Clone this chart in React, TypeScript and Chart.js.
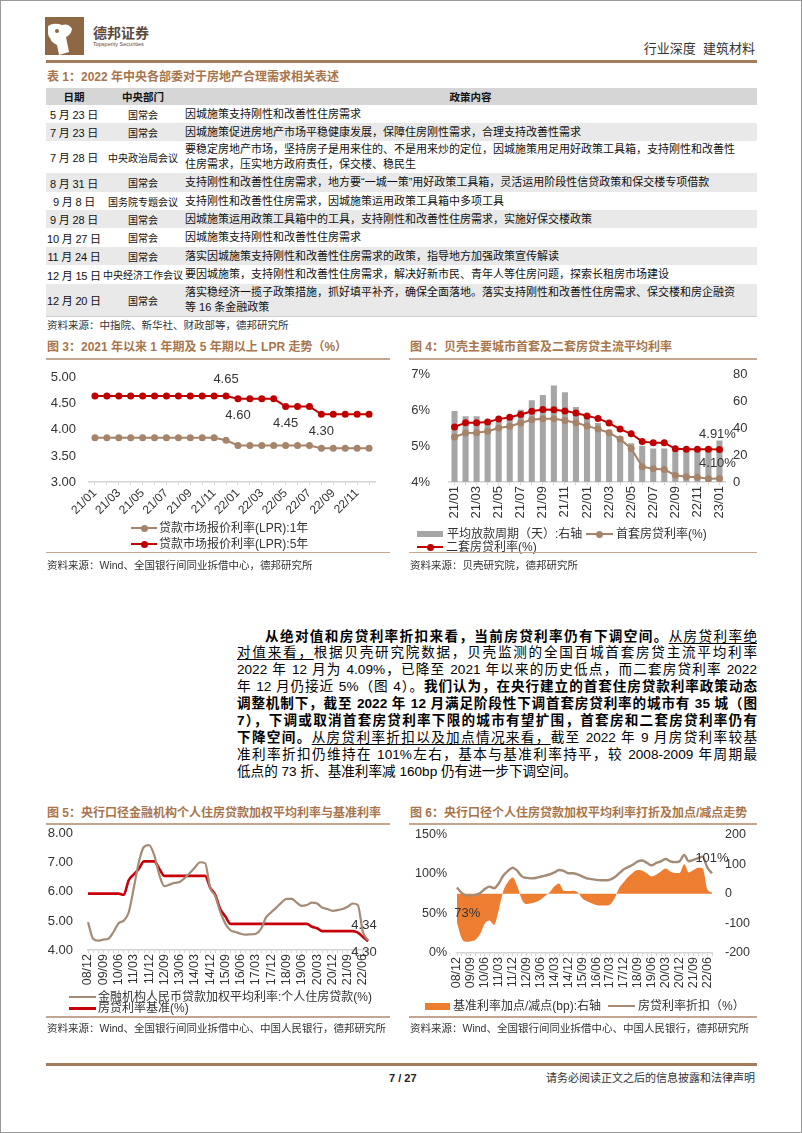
import React, { useEffect, useRef } from 'react';
import { Chart, registerables } from 'chart.js';

Chart.register(...registerables);

const FF = "'Liberation Sans', 'Noto Sans CJK SC', sans-serif";
Chart.defaults.font.family = FF;
Chart.defaults.color = '#333';

// ---------------- Table 1 ----------------
const policyDates = ['5 月 23 日', '7 月 23 日', '7 月 28 日', '8 月 31 日', '9 月 8 日', '9 月 28 日', '10 月 27 日', '11 月 24 日', '12 月 15 日', '12 月 20 日'];
const policyDepts = ['国常会', '国常会', '中央政治局会议', '国常会', '国务院专题会议', '国常会', '国常会', '国常会', '中央经济工作会议', '国常会'];
const policyContents: string[][] = [
  ['因城施策支持刚性和改善性住房需求'],
  ['因城施策促进房地产市场平稳健康发展，保障住房刚性需求，合理支持改善性需求'],
  ['要稳定房地产市场，坚持房子是用来住的、不是用来炒的定位，因城施策用足用好政策工具箱，支持刚性和改善性', '住房需求，压实地方政府责任，保交楼、稳民生'],
  ['支持刚性和改善性住房需求，地方要“一城一策”用好政策工具箱，灵活运用阶段性信贷政策和保交楼专项借款'],
  ['支持刚性和改善性住房需求，因城施策运用政策工具箱中多项工具'],
  ['因城施策运用政策工具箱中的工具，支持刚性和改善性住房需求，实施好保交楼政策'],
  ['因城施策支持刚性和改善性住房需求'],
  ['落实因城施策支持刚性和改善性住房需求的政策，指导地方加强政策宣传解读'],
  ['要因城施策，支持刚性和改善性住房需求，解决好新市民、青年人等住房问题，探索长租房市场建设'],
  ['落实稳经济一揽子政策措施，抓好填平补齐，确保全面落地。落实支持刚性和改善性住房需求、保交楼和房企融资', '等 16 条金融政策'],
];

// ---------------- Figure 3: LPR ----------------
const lprMonths = ['21/01', '21/02', '21/03', '21/04', '21/05', '21/06', '21/07', '21/08', '21/09', '21/10', '21/11', '21/12', '22/01', '22/02', '22/03', '22/04', '22/05', '22/06', '22/07', '22/08', '22/09', '22/10', '22/11', '22/12'];
const lpr1Y = [3.85, 3.85, 3.85, 3.85, 3.85, 3.85, 3.85, 3.85, 3.85, 3.85, 3.85, 3.80, 3.70, 3.70, 3.70, 3.70, 3.70, 3.70, 3.70, 3.65, 3.65, 3.65, 3.65, 3.65];
const lpr5Y = [4.65, 4.65, 4.65, 4.65, 4.65, 4.65, 4.65, 4.65, 4.65, 4.65, 4.65, 4.65, 4.60, 4.60, 4.60, 4.60, 4.45, 4.45, 4.45, 4.30, 4.30, 4.30, 4.30, 4.30];
const lprTicks = [3, 3.5, 4, 4.5, 5];

// ---------------- Figure 4: Beike ----------------
const bkMonths = ['21/01', '21/02', '21/03', '21/04', '21/05', '21/06', '21/07', '21/08', '21/09', '21/10', '21/11', '21/12', '22/01', '22/02', '22/03', '22/04', '22/05', '22/06', '22/07', '22/08', '22/09', '22/10', '22/11', '22/12', '23/01'];
const loanDays = [53, 49, 49, 45, 45, 48, 54, 61, 65, 72, 67, 56, 49, 44, 39, 34, 29, 27, 25, 25, 23, 23, 24, 26, 31];
const firstHomeRate = [5.26, 5.37, 5.38, 5.42, 5.51, 5.56, 5.65, 5.74, 5.77, 5.77, 5.72, 5.66, 5.57, 5.48, 5.38, 5.20, 4.94, 4.43, 4.37, 4.35, 4.19, 4.15, 4.13, 4.09, 4.10];
const secondHomeRate = [5.54, 5.66, 5.66, 5.68, 5.76, 5.81, 5.89, 5.98, 6.03, 6.02, 5.99, 5.93, 5.85, 5.78, 5.65, 5.48, 5.35, 5.13, 5.10, 5.10, 4.93, 4.92, 4.92, 4.92, 4.91];

// ---------------- Figures 5 & 6: PBOC quarterly ----------------
const quarters = ['08/12', '09/03', '09/06', '09/09', '09/12', '10/03', '10/06', '10/09', '10/12', '11/03', '11/06', '11/09', '11/12', '12/03', '12/06', '12/09', '12/12', '13/03', '13/06', '13/09', '13/12', '14/03', '14/06', '14/09', '14/12', '15/03', '15/06', '15/09', '15/12', '16/03', '16/06', '16/09', '16/12', '17/03', '17/06', '17/09', '17/12', '18/03', '18/06', '18/09', '18/12', '19/03', '19/06', '19/09', '19/12', '20/03', '20/06', '20/09', '20/12', '21/03', '21/06', '21/09', '21/12', '22/03', '22/06', '22/09'];
const mortgageRate = [4.96, 4.39, 4.32, 4.36, 4.39, 4.62, 4.92, 5.01, 5.30, 6.14, 7.04, 7.55, 7.61, 7.27, 6.59, 6.20, 6.25, 6.31, 6.34, 6.48, 6.65, 6.84, 7.02, 6.99, 6.14, 5.86, 5.30, 4.90, 4.68, 4.62, 4.56, 4.53, 4.54, 4.56, 4.73, 5.13, 5.30, 5.46, 5.63, 5.76, 5.76, 5.63, 5.52, 5.55, 5.63, 5.60, 5.46, 5.41, 5.35, 5.37, 5.41, 5.49, 5.60, 5.55, 4.62, 4.34];
const benchmarkRate = [5.94, 5.94, 5.94, 5.94, 5.94, 5.94, 5.94, 5.90, 6.40, 6.60, 6.80, 7.05, 7.05, 7.05, 6.80, 6.55, 6.55, 6.55, 6.55, 6.55, 6.55, 6.55, 6.55, 6.55, 6.15, 5.90, 5.40, 5.15, 4.90, 4.90, 4.90, 4.90, 4.90, 4.90, 4.90, 4.90, 4.90, 4.90, 4.90, 4.90, 4.90, 4.90, 4.90, 4.90, 4.80, 4.75, 4.65, 4.65, 4.65, 4.65, 4.65, 4.65, 4.65, 4.60, 4.45, 4.30];
const discountPct = [83, 76, 73, 73, 73.5, 76, 81, 84, 82, 88, 98, 104, 108, 104, 97, 95, 94.5, 95, 96.5, 98, 99.5, 102, 105, 104, 101, 101, 99.5, 97, 94.5, 93.5, 92.5, 92, 92, 93, 96, 101, 106, 109, 112, 116, 117, 114, 111, 114, 116, 119, 116, 115, 116, 124, 116, 118, 120, 122, 108, 101];
const spreadBp = [-98, -150, -162, -160, -155, -135, -100, -90, -105, -55, 10, 40, 55, 25, -20, -35, -32, -28, -20, -8, 5, 25, 35, 10, 9, 10, 5, -15, -25, -32, -38, -40, -40, -36, -15, 20, 40, 58, 72, 80, 78, 68, 58, 65, 75, 85, 75, 70, 70, 100, 72, 80, 88, 85, 15, 4];

// ---------------- Paragraph ----------------
type Seg = [string, 'n' | 'b' | 'u'];
const paraLines: Seg[][] = [
  [['从绝对值和房贷利率折扣来看，当前房贷利率仍有下调空间。', 'b'], ['从房贷利率绝', 'u']],
  [['对值来看，', 'u'], ['根据贝壳研究院数据，贝壳监测的全国百城首套房贷主流平均利率', 'n']],
  [['2022 年 12 月为 4.09%，已降至 2021 年以来的历史低点，而二套房贷利率 2022', 'n']],
  [['年 12 月仍接近 5%（图 4）。', 'n'], ['我们认为，在央行建立的首套住房贷款利率政策动态', 'b']],
  [['调整机制下，截至 2022 年 12 月满足阶段性下调首套房贷利率的城市有 35 城（图', 'b']],
  [['7），下调或取消首套房贷利率下限的城市有望扩围，首套房和二套房贷利率仍有', 'b']],
  [['下降空间。', 'b'], ['从房贷利率折扣以及加点情况来看，', 'u'], ['截至 2022 年 9 月房贷利率较基', 'n']],
  [['准利率折扣仍维持在 101%左右，基本与基准利率持平，较 2008-2009 年周期最', 'n']],
  [['低点的 73 折、基准利率减 160bp 仍有进一步下调空间。', 'n']],
];

// ---------------- colours ----------------
const BROWN = '#a5846a';
const RED = '#c00000';
const GREYBAR = '#a6a6a6';
const ORANGE = '#ed7d31';
const TITLE = '#a8754c';
const RULE = '#c2a78e';
const AXIS = '#d4d4d4';

type LabelItem = { ds: number; idx: number; text: string; dx: number; dy: number };
function valueLabels(items: LabelItem[], size: number) {
  return {
    id: 'valueLabels',
    afterDatasetsDraw(chart: any) {
      const ctx = chart.ctx;
      ctx.save();
      ctx.font = `${size}px ${FF}`;
      ctx.fillStyle = '#333';
      ctx.textAlign = 'center';
      ctx.textBaseline = 'middle';
      items.forEach((it) => {
        const el = chart.getDatasetMeta(it.ds).data[it.idx];
        if (el) ctx.fillText(it.text, el.x + it.dx, el.y + it.dy);
      });
      ctx.restore();
    },
  };
}

function xAxis(labels: string[], every: number, rot: number, size: number, h: number, offset: boolean) {
  return {
    offset,
    grid: { display: true, drawOnChartArea: false, color: AXIS, tickLength: 3, offset: false },
    border: { color: AXIS, width: 1.5 },
    ticks: {
      autoSkip: false,
      maxRotation: rot,
      minRotation: rot,
      padding: 1,
      font: { size },
      color: '#333',
      callback: (_v: any, i: number) => (i % every === 0 ? labels[i] : ''),
    },
    afterFit: (s: any) => { s.height = h; },
  };
}

function yAxis(opts: any, w: number, size: number, pad: number, pos: 'left' | 'right') {
  return {
    position: pos,
    ...opts,
    grid: { display: false, drawTicks: false },
    border: { display: false },
    ticks: { ...(opts.ticks || {}), padding: pad, font: { size }, color: '#333' },
    afterFit: (s: any) => { s.width = w; },
  };
}

function ChartCanvas({ left, top, width, height, build }: { left: number; top: number; width: number; height: number; build: () => any }) {
  const ref = useRef<HTMLCanvasElement>(null);
  useEffect(() => {
    const chart = new Chart(ref.current as HTMLCanvasElement, build());
    return () => chart.destroy();
  }, []);
  return <canvas ref={ref} width={width} height={height} style={{ position: 'absolute', left, top, width, height }} />;
}

const baseOpts = (padding: any) => ({
  animation: false,
  responsive: false,
  maintainAspectRatio: false,
  events: [],
  layout: { padding },
  plugins: { legend: { display: false }, tooltip: { enabled: false } },
});

function buildLpr() {
  return {
    type: 'line',
    data: {
      labels: lprMonths,
      datasets: [
        { data: lpr1Y, borderColor: BROWN, backgroundColor: BROWN, borderWidth: 2, pointRadius: 3.5, pointBorderWidth: 0, tension: 0 },
        { data: lpr5Y, borderColor: RED, backgroundColor: RED, borderWidth: 2, pointRadius: 3.5, pointBorderWidth: 0, tension: 0 },
      ],
    },
    options: {
      ...baseOpts({ top: 2, right: 9, left: 0, bottom: 0 }),
      scales: {
        x: xAxis(lprMonths, 2, 45, 12, 44, true),
        y: yAxis({ min: lprTicks[0], max: lprTicks[lprTicks.length - 1], ticks: { stepSize: 0.5, callback: (v: any) => Number(v).toFixed(2) } }, 45, 13, 13, 'left'),
      },
    },
    plugins: [valueLabels([
      { ds: 1, idx: 11, text: lpr5Y[11].toFixed(2), dx: 0, dy: -17 },
      { ds: 1, idx: 12, text: lpr5Y[12].toFixed(2), dx: 0, dy: 17 },
      { ds: 1, idx: 16, text: lpr5Y[16].toFixed(2), dx: 0, dy: 17 },
      { ds: 1, idx: 19, text: lpr5Y[19].toFixed(2), dx: 0, dy: 17 },
    ], 13)],
  };
}

function buildBeike() {
  const last = bkMonths.length - 1;
  return {
    type: 'bar',
    data: {
      labels: bkMonths,
      datasets: [
        { type: 'line', data: firstHomeRate, yAxisID: 'y', borderColor: BROWN, backgroundColor: BROWN, borderWidth: 2, pointRadius: 3.5, pointBorderWidth: 0, tension: 0, order: 1 },
        { type: 'line', data: secondHomeRate, yAxisID: 'y', borderColor: RED, backgroundColor: RED, borderWidth: 2, pointRadius: 3.5, pointBorderWidth: 0, tension: 0, order: 0 },
        { type: 'bar', data: loanDays, yAxisID: 'y1', backgroundColor: GREYBAR, barPercentage: 0.55, categoryPercentage: 1, order: 2 },
      ],
    },
    options: {
      ...baseOpts({ top: 2, right: 0, left: 0, bottom: 0 }),
      scales: {
        x: xAxis(bkMonths, 2, 90, 13, 44, true),
        y: yAxis({ min: 4, max: 7, ticks: { stepSize: 1, callback: (v: any) => v + '%' } }, 44, 13, 19, 'left'),
        y1: yAxis({ min: 0, max: 80, ticks: { stepSize: 20 } }, 30, 13, 8, 'right'),
      },
    },
    plugins: [valueLabels([
      { ds: 1, idx: last, text: secondHomeRate[last].toFixed(2) + '%', dx: -2, dy: -15 },
      { ds: 0, idx: last, text: firstHomeRate[last].toFixed(2) + '%', dx: -2, dy: -15 },
    ], 13)],
  };
}

function buildPboc() {
  const last = quarters.length - 1;
  return {
    type: 'line',
    data: {
      labels: quarters,
      datasets: [
        { data: mortgageRate, borderColor: '#a38b76', borderWidth: 2.2, pointRadius: 0, cubicInterpolationMode: 'monotone' },
        { data: benchmarkRate, borderColor: '#c8000a', borderWidth: 2.6, pointRadius: 0, cubicInterpolationMode: 'monotone' },
      ],
    },
    options: {
      ...baseOpts({ top: 2, right: 11, left: 0, bottom: 0 }),
      scales: {
        x: xAxis(quarters, 3, 90, 12.5, 40, false),
        y: yAxis({ min: 4, max: 8, ticks: { stepSize: 1, callback: (v: any) => Number(v).toFixed(2) } }, 44, 13, 15, 'left'),
      },
    },
    plugins: [valueLabels([
      { ds: 0, idx: last, text: mortgageRate[last].toFixed(2), dx: -4, dy: -15 },
      { ds: 1, idx: last, text: benchmarkRate[last].toFixed(2), dx: -4, dy: 11 },
    ], 13)],
  };
}

function buildDiscount() {
  const last = quarters.length - 1;
  return {
    type: 'line',
    data: {
      labels: quarters,
      datasets: [
        { data: discountPct, yAxisID: 'y', borderColor: '#a38b76', borderWidth: 2.4, pointRadius: 0, cubicInterpolationMode: 'monotone', order: 1 },
        { data: spreadBp, yAxisID: 'y1', borderWidth: 0, borderColor: ORANGE, backgroundColor: ORANGE, fill: 'origin', pointRadius: 0, cubicInterpolationMode: 'monotone', order: 2 },
      ],
    },
    options: {
      ...baseOpts({ top: 2, right: 0, left: 0, bottom: 0 }),
      scales: {
        x: xAxis(quarters, 3, 90, 12.5, 37, false),
        y: yAxis({ min: 0, max: 150, ticks: { stepSize: 50, callback: (v: any) => v + '%' } }, 52, 12.5, 10, 'left'),
        y1: yAxis({ min: -200, max: 200, ticks: { stepSize: 100 } }, 43, 12.5, 13, 'right'),
      },
    },
    plugins: [valueLabels([
      { ds: 0, idx: 2, text: discountPct[2] + '%', dx: 1, dy: 18 },
      { ds: 0, idx: last, text: discountPct[last] + '%', dx: 0, dy: -15 },
    ], 13)],
  };
}

// ---------------- small layout helpers ----------------
function Txt({ x, y, size, children, bold, color, right, w, family }: any) {
  const h = Math.round(size * 1.5);
  const style: any = {
    position: 'absolute', top: y - h / 2, height: h, lineHeight: h + 'px', fontSize: size,
    fontWeight: bold ? 700 : 400, color: color || '#222', whiteSpace: 'nowrap', fontFamily: family || FF,
  };
  if (right) style.right = 802 - x; else style.left = x;
  if (w) style.width = w;
  return <div style={style}>{children}</div>;
}

function HLine({ x1, x2, y, t, color }: any) {
  return <div style={{ position: 'absolute', left: x1, top: y - t / 2, width: x2 - x1, height: t, background: color }} />;
}

function LegendLine({ x1, x2, y, color, t, dot }: any) {
  return (
    <>
      <div style={{ position: 'absolute', left: x1, top: y - t / 2, width: x2 - x1, height: t, background: color }} />
      {dot ? <div style={{ position: 'absolute', left: (x1 + x2) / 2 - 3.5, top: y - 3.5, width: 7, height: 7, borderRadius: '50%', background: color }} /> : null}
    </>
  );
}

const COL1 = 56;
const COL2 = 82;

function Table() {
  const heights = [18, 18, 32, 19, 18, 18, 19, 18, 19, 32];
  let top = 105;
  const rows = policyDates.map((d, i) => {
    const t = top;
    top += heights[i];
    return (
      <div key={i} style={{ position: 'absolute', left: 46, top: t, width: 711, height: heights[i], background: i % 2 === 1 ? '#e9e9e9' : '#fff', display: 'flex', alignItems: 'center' }}>
        <div style={{ width: COL1, textAlign: 'center', fontSize: 11, color: '#111', whiteSpace: 'nowrap', letterSpacing: -0.2 }}>{d}</div>
        <div style={{ width: COL2, textAlign: 'center', fontSize: 10, color: '#111', whiteSpace: 'nowrap' }}>{policyDepts[i]}</div>
        <div style={{ flex: 1, paddingLeft: 1, fontSize: 11, lineHeight: '15px', color: '#111', whiteSpace: 'nowrap' }}>
          {policyContents[i].map((l, k) => <div key={k}>{l}</div>)}
        </div>
      </div>
    );
  });
  return (
    <>
      <div style={{ position: 'absolute', left: 46, top: 88, width: 711, height: 17, background: '#d6d6d6', display: 'flex', alignItems: 'center', fontWeight: 700, fontSize: 10.5, color: '#111' }}>
        <div style={{ width: COL1, textAlign: 'center' }}>日期</div>
        <div style={{ width: COL2, textAlign: 'center' }}>中央部门</div>
        <div style={{ flex: 1, textAlign: 'center' }}>政策内容</div>
      </div>
      {rows}
      <HLine x1={46} x2={757} y={316.5} t={1} color="#cfcfcf" />
    </>
  );
}

function Paragraph() {
  return (
    <>
      {paraLines.map((segs, i) => (
        <div key={i} style={{
          position: 'absolute', left: 237, width: 520, top: 636 - 8.5 + i * 16.9, height: 17, lineHeight: '17px',
          fontSize: 13.6, color: '#000', paddingLeft: i === 0 ? 28 : 0, boxSizing: 'border-box',
          textAlign: 'justify', textAlignLast: i === paraLines.length - 1 ? 'left' : 'justify', overflow: 'hidden',
        } as any}>
          {segs.map(([t, s], k) => (
            <span key={k} style={{ fontWeight: s === 'b' ? 700 : 400, textDecoration: s === 'u' ? 'underline' : 'none', textUnderlineOffset: 2 }}>{t}</span>
          ))}
        </div>
      ))}
    </>
  );
}

function Logo() {
  return (
    <svg style={{ position: 'absolute', left: 45, top: 17 }} width={40} height={40} viewBox="0 0 40 40">
      <rect x={0} y={0} width={39} height={38} fill="#8e6845" />
      <path d="M3 9 Q9 5 17 8 Q24 6 27 12 Q26 18 21 20 L24 35 L14 38 L12 28 Q5 25 3 17 Z" fill="#fff" />
      <circle cx={12} cy={14} r={2} fill="#8e6845" />
      <circle cx={4} cy={22} r={1.6} fill="#8e6845" />
    </svg>
  );
}

export default function App() {
  return (
    <div style={{ position: 'absolute', left: 0, top: 0, width: 802, height: 1133, background: '#fff', overflow: 'hidden', fontFamily: FF }}>
      <div style={{ position: 'absolute', inset: 0, border: '1px solid #9a9a9a', boxSizing: 'border-box' }} />
      {/* header */}
      <Logo />
      <Txt x={93} y={33} size={14} bold color="#5d4a3c">德邦证券</Txt>
      <Txt x={93} y={44} size={5.5} color="#5d4a3c">Topsperity Securities</Txt>
      <Txt x={755} y={49} size={13} right color="#333">行业深度&nbsp;&nbsp;建筑材料</Txt>
      <HLine x1={46} x2={757} y={61.5} t={3} color="#a47c5a" />

      {/* table */}
      <Txt x={47} y={77} size={12} bold color={TITLE}>表 1：2022 年中央各部委对于房地产合理需求相关表述</Txt>
      <Table />
      <Txt x={47} y={325} size={10.5} color="#333">资料来源：中指院、新华社、财政部等，德邦研究所</Txt>

      {/* figure 3 */}
      <Txt x={47} y={347} size={12} bold color={TITLE}>图 3：2021 年以来 1 年期及 5 年期以上 LPR 走势（%）</Txt>
      <HLine x1={46} x2={390} y={359} t={1.5} color={RULE} />
      <ChartCanvas left={44} top={357} width={340} height={169} build={buildLpr} />
      <LegendLine x1={131} x2={157} y={528} color={BROWN} t={2} dot />
      <Txt x={159} y={528} size={12} color="#333">贷款市场报价利率(LPR):1年</Txt>
      <LegendLine x1={131} x2={157} y={544} color={RED} t={2} dot />
      <Txt x={159} y={544} size={12} color="#333">贷款市场报价利率(LPR):5年</Txt>
      <HLine x1={46} x2={390} y={552.5} t={1.5} color={RULE} />
      <Txt x={47} y={565} size={10.5} color="#333">资料来源：Wind、全国银行间同业拆借中心，德邦研究所</Txt>

      {/* figure 4 */}
      <Txt x={410} y={347} size={12} bold color={TITLE}>图 4：贝壳主要城市首套及二套房贷主流平均利率</Txt>
      <HLine x1={409} x2={757} y={359} t={1.5} color={RULE} />
      <ChartCanvas left={405} top={348} width={350} height={178} build={buildBeike} />
      <div style={{ position: 'absolute', left: 417, top: 531, width: 26, height: 6, background: GREYBAR }} />
      <Txt x={447} y={534} size={12} color="#333">平均放款周期（天）:右轴</Txt>
      <LegendLine x1={586} x2={613} y={534} color={BROWN} t={2} dot />
      <Txt x={616} y={534} size={12} color="#333">首套房贷利率(%)</Txt>
      <LegendLine x1={417} x2={443} y={547} color={RED} t={2} dot />
      <Txt x={446} y={547} size={12} color="#333">二套房贷利率(%)</Txt>
      <HLine x1={409} x2={757} y={552.5} t={1.5} color={RULE} />
      <Txt x={410} y={565} size={10.5} color="#333">资料来源：贝壳研究院，德邦研究所</Txt>

      {/* paragraph */}
      <Paragraph />

      {/* figure 5 */}
      <Txt x={47} y={813} size={12} bold color={TITLE}>图 5：央行口径金融机构个人住房贷款加权平均利率与基准利率</Txt>
      <HLine x1={46} x2={390} y={824} t={1.5} color={RULE} />
      <ChartCanvas left={44} top={811} width={340} height={179} build={buildPboc} />
      <LegendLine x1={69} x2={96} y={997} color="#a38b76" t={2} />
      <Txt x={98} y={997} size={12} color="#333">金融机构人民币贷款加权平均利率:个人住房贷款(%)</Txt>
      <LegendLine x1={69} x2={96} y={1008} color="#c8000a" t={3} />
      <Txt x={98} y={1008} size={12} color="#333">房贷利率基准(%)</Txt>
      <HLine x1={46} x2={390} y={1017} t={1.5} color={RULE} />
      <Txt x={47} y={1028} size={10.5} color="#333">资料来源：Wind、全国银行间同业拆借中心、中国人民银行，德邦研究所</Txt>

      {/* figure 6 */}
      <Txt x={410} y={813} size={12} bold color={TITLE}>图 6：央行口径个人住房贷款加权平均利率打折及加点/减点走势</Txt>
      <HLine x1={409} x2={757} y={824} t={1.5} color={RULE} />
      <ChartCanvas left={405} top={814} width={350} height={176} build={buildDiscount} />
      <div style={{ position: 'absolute', left: 425, top: 1003, width: 25, height: 7, background: ORANGE }} />
      <Txt x={453} y={1006} size={12} color="#333">基准利率加点/减点(bp):右轴</Txt>
      <LegendLine x1={608} x2={635} y={1006} color="#a38b76" t={2} />
      <Txt x={638} y={1006} size={12} color="#333">房贷利率折扣（%）</Txt>
      <HLine x1={409} x2={757} y={1017} t={1.5} color={RULE} />
      <Txt x={410} y={1028} size={10.5} color="#333">资料来源：Wind、全国银行间同业拆借中心、中国人民银行，德邦研究所</Txt>

      {/* footer */}
      <HLine x1={46} x2={757} y={1064} t={3} color="#a47c5a" />
      <Txt x={389} y={1078} size={11} bold color="#222">7 / 27</Txt>
      <Txt x={755} y={1078} size={11} right color="#333">请务必阅读正文之后的信息披露和法律声明</Txt>
    </div>
  );
}
